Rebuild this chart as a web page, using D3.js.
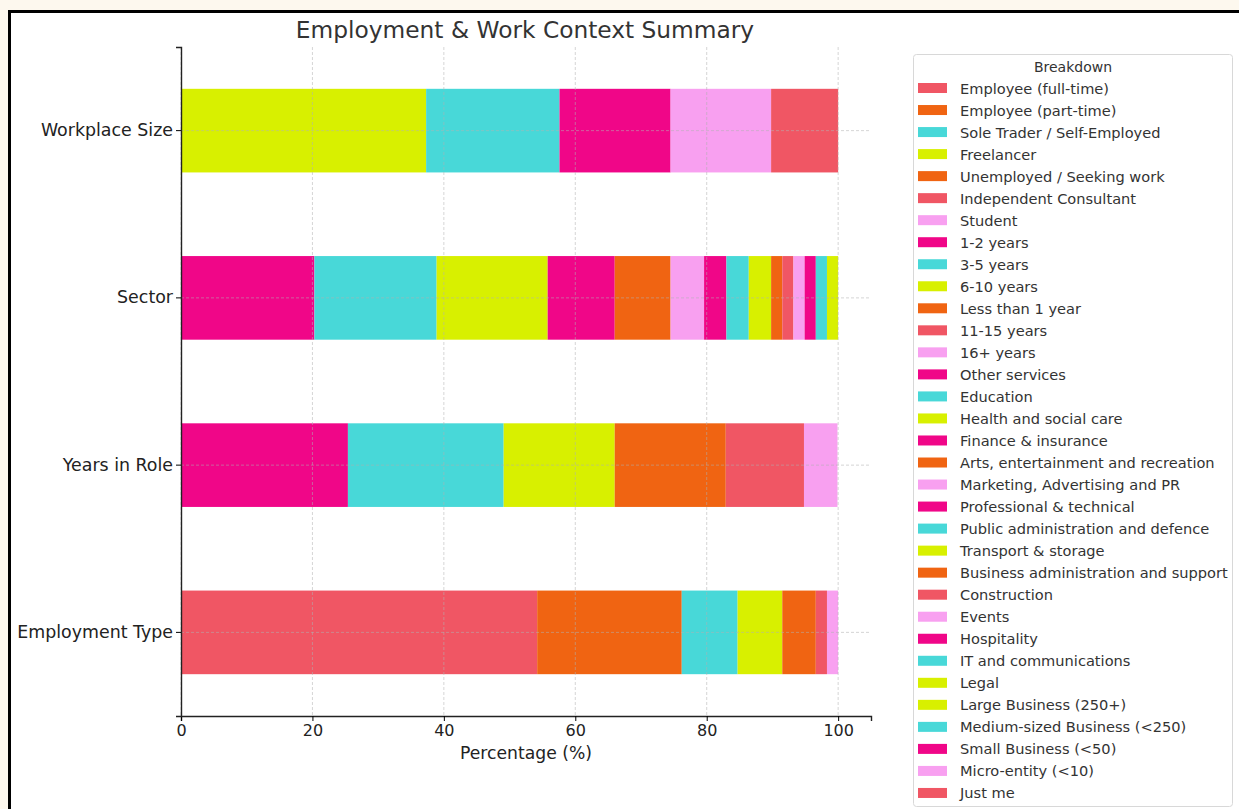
<!DOCTYPE html>
<html>
<head>
<meta charset="utf-8">
<script src="https://cdn.jsdelivr.net/npm/d3@7"></script>
<style>
  html, body { margin: 0; padding: 0; background: #fdf8ee; }
  svg { display: block; font-family: "DejaVu Sans", sans-serif; }
</style>
</head>
<body>
<div id="chart"></div>
<script>
const title = "Employment & Work Context Summary";
const groups = ["Workplace Size", "Sector", "Years in Role", "Employment Type"];

// percentage shares per group, in stacking order
const employmentType = ["Employee (full-time)", "Employee (part-time)", "Sole Trader / Self-Employed", "Freelancer", "Unemployed / Seeking work", "Independent Consultant", "Student"];
const employmentValues = [54.2, 22.0, 8.5, 6.8, 5.1, 1.7, 1.7];

const yearsInRole = ["1-2 years", "3-5 years", "6-10 years", "Less than 1 year", "11-15 years", "16+ years"];
const yearsValues = [25.4, 23.7, 16.9, 16.9, 11.9, 5.1];

const sector = ["Other services", "Education", "Health and social care", "Finance & insurance", "Arts, entertainment and recreation", "Marketing, Advertising and PR", "Professional & technical", "Public administration and defence", "Transport & storage", "Business administration and support", "Construction", "Events", "Hospitality", "IT and communications", "Legal"];
const sectorValues = [20.3, 18.6, 16.9, 10.2, 8.5, 5.1, 3.4, 3.4, 3.4, 1.7, 1.7, 1.7, 1.7, 1.7, 1.7];

const workplaceSize = ["Large Business (250+)", "Medium-sized Business (<250)", "Small Business (<50)", "Micro-entity (<10)", "Just me"];
const workplaceValues = [37.3, 20.3, 16.9, 15.3, 10.2];

const xTicks = [0, 20, 40, 60, 80, 100];

const colorFor = {
  "Employee (full-time)": "#f05664", "Employee (part-time)": "#f06412",
  "Sole Trader / Self-Employed": "#48d8d8", "Freelancer": "#d8f000",
  "Unemployed / Seeking work": "#f06412", "Independent Consultant": "#f05664",
  "Student": "#f8a0f0", "1-2 years": "#f00688", "3-5 years": "#48d8d8",
  "6-10 years": "#d8f000", "Less than 1 year": "#f06412", "11-15 years": "#f05664",
  "16+ years": "#f8a0f0", "Other services": "#f00688", "Education": "#48d8d8",
  "Health and social care": "#d8f000", "Finance & insurance": "#f00688",
  "Arts, entertainment and recreation": "#f06412", "Marketing, Advertising and PR": "#f8a0f0",
  "Professional & technical": "#f00688", "Public administration and defence": "#48d8d8",
  "Transport & storage": "#d8f000", "Business administration and support": "#f06412",
  "Construction": "#f05664", "Events": "#f8a0f0", "Hospitality": "#f00688",
  "IT and communications": "#48d8d8", "Legal": "#d8f000",
  "Large Business (250+)": "#d8f000", "Medium-sized Business (<250)": "#48d8d8",
  "Small Business (<50)": "#f00688", "Micro-entity (<10)": "#f8a0f0", "Just me": "#f05664"
};

const seriesByGroup = {
  "Employment Type": [employmentType, employmentValues],
  "Years in Role": [yearsInRole, yearsValues],
  "Sector": [sector, sectorValues],
  "Workplace Size": [workplaceSize, workplaceValues]
};
const legendOrder = [...employmentType, ...yearsInRole, ...sector, ...workplaceSize];

const W = 1239, H = 809;
const svg = d3.select("#chart").append("svg").attr("width", W).attr("height", H);

// frame
svg.append("rect").attr("x", 9.5).attr("y", 11.5).attr("width", W).attr("height", H)
  .attr("fill", "#fff").attr("stroke", "#000").attr("stroke-width", 3);

const plotLeft = 181, plotRight = 871, plotTop = 47, plotBottom = 716;
const x = d3.scaleLinear().domain([0, 105]).range([plotLeft, plotRight]);
const y = d3.scaleBand().domain(groups).range([plotTop, plotBottom]).paddingInner(0.5).paddingOuter(0.25);

// bars
const segs = [];
groups.forEach((g) => {
  const [names, vals] = seriesByGroup[g];
  let acc = 0;
  names.forEach((n, i) => {
    segs.push({ group: g, name: n, x0: acc, x1: acc + vals[i] });
    acc += vals[i];
  });
});

svg.append("g").selectAll("rect")
  .data(segs)
  .enter()
  .append("rect")
  .attr("x", (d) => x(d.x0))
  .attr("y", (d) => y(d.group))
  .attr("width", (d) => x(d.x1) - x(d.x0))
  .attr("height", y.bandwidth())
  .attr("fill", (d) => colorFor[d.name]);

// grid (drawn on top like the original)
const grid = svg.append("g").attr("stroke", "#b0b0b0").attr("stroke-opacity", 0.6)
  .attr("stroke-dasharray", "3,2").attr("stroke-width", 0.9);
grid.selectAll("line.v").data(xTicks).enter().append("line")
  .attr("x1", (d) => x(d)).attr("x2", (d) => x(d)).attr("y1", plotTop).attr("y2", plotBottom);
grid.selectAll("line.h").data(groups).enter().append("line")
  .attr("x1", plotLeft).attr("x2", plotRight)
  .attr("y1", (d) => y(d) + y.bandwidth() / 2).attr("y2", (d) => y(d) + y.bandwidth() / 2);

// axes
const xAxis = svg.append("g")
  .attr("transform", `translate(0, ${plotBottom})`)
  .call(d3.axisBottom(x).tickValues(xTicks).tickSizeOuter(0).tickSize(5).tickPadding(4));
xAxis.selectAll("text").attr("font-size", 16).attr("fill", "#222").attr("font-family", "DejaVu Sans");
xAxis.select(".domain").attr("stroke", "#222").attr("stroke-width", 1.4);

const yAxis = svg.append("g")
  .attr("transform", `translate(${plotLeft}, 0)`)
  .call(d3.axisLeft(y).tickSizeOuter(0).tickSize(5).tickPadding(3));
yAxis.selectAll("text").attr("font-size", 17.4).attr("fill", "#222").attr("font-family", "DejaVu Sans");
yAxis.select(".domain").attr("stroke", "#222").attr("stroke-width", 1.4);

// labels
svg.append("text").attr("x", 525).attr("y", 38).attr("text-anchor", "middle")
  .attr("font-size", 23.3).attr("fill", "#333").text(title);
svg.append("text").attr("x", x(52.5)).attr("y", 759).attr("text-anchor", "middle")
  .attr("font-size", 17.2).attr("fill", "#222").text("Percentage (%)");

// legend
const lg = svg.append("g");
lg.append("rect").attr("x", 913.5).attr("y", 54.5).attr("width", 319).attr("height", 752)
  .attr("rx", 3).attr("fill", "#fff").attr("stroke", "#d8d8d8");
lg.append("text").attr("x", 1073).attr("y", 72).attr("text-anchor", "middle")
  .attr("font-size", 14).attr("fill", "#333").text("Breakdown");
const item = lg.selectAll("g.item").data(legendOrder).enter().append("g")
  .attr("transform", (d, i) => `translate(0, ${88 + i * 22.03})`);
item.append("rect").attr("x", 918).attr("y", -5).attr("width", 29).attr("height", 10)
  .attr("fill", (d) => colorFor[d]);
item.append("text").attr("x", 960).attr("y", 5.5).attr("font-size", 14.6).attr("fill", "#333")
  .text((d) => d);
</script>
</body>
</html>
